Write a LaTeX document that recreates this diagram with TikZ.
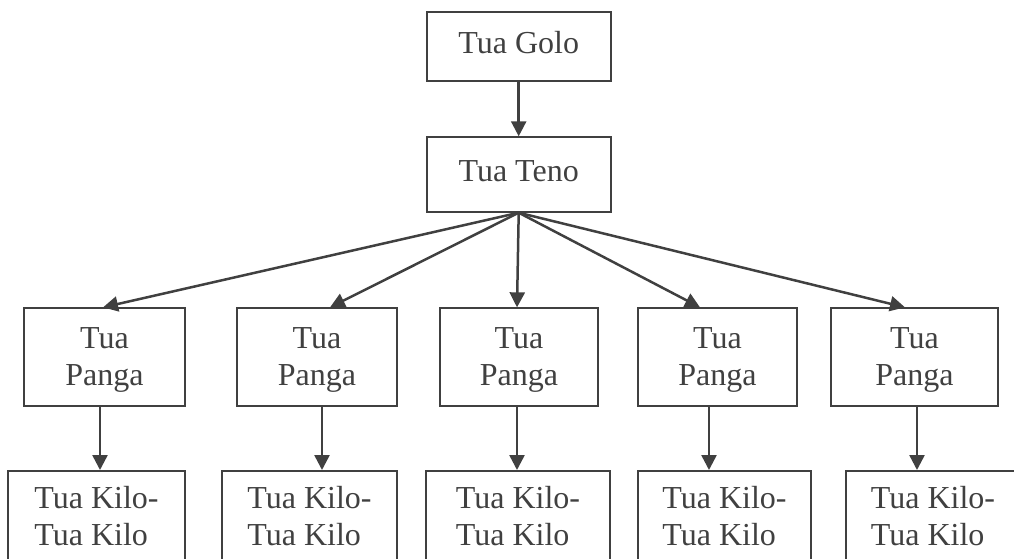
\documentclass[tikz,border=0pt]{standalone}
\usepackage{fontspec}
\setmainfont{Liberation Serif}
\usetikzlibrary{arrows.meta}
\definecolor{ink}{HTML}{404040}
\begin{document}
\begin{tikzpicture}[x=1pt,y=-1pt,
  box/.style={draw=ink, line width=2pt, text=ink, inner sep=0pt,
    font=\fontsize{32}{36.7}\selectfont},
  topbox/.style={box, minimum width=184pt, text height=22pt, text depth=8pt},
  pbox/.style={box, align=center, minimum height=97.7pt},
  kbox/.style={box, align=left, minimum height=100pt},
  arr/.style={draw=ink, line width=2.5pt, -{Triangle[width=15pt,length=15pt]}}]
\useasboundingbox (0,0) rectangle (1014,558);
\clip (0,0) rectangle (1014,558);

\node[topbox, minimum height=68.7pt] (g) at (518.7,46.7) {Tua Golo};
\node[topbox, minimum height=74.4pt] (t) at (518.7,174.5) {Tua Teno};

\node[pbox, minimum width=161pt] (p1) at (104.5,357.2) {\rule{0pt}{26pt}Tua\\Panga};
\node[pbox, minimum width=160pt] (p2) at (317,357.2) {\rule{0pt}{26pt}Tua\\Panga};
\node[pbox, minimum width=158pt] (p3) at (519,357.2) {\rule{0pt}{26pt}Tua\\Panga};
\node[pbox, minimum width=159pt] (p4) at (717.5,357.2) {\rule{0pt}{26pt}Tua\\Panga};
\node[pbox, minimum width=167pt] (p5) at (914.5,357.2) {\rule{0pt}{26pt}Tua\\Panga};

\node[kbox, minimum width=177pt] (k1) at (96.5,521) {Tua Kilo-\\Tua Kilo\rule[-10.6pt]{0pt}{10.6pt}};
\node[kbox, minimum width=175pt] (k2) at (309.5,521) {Tua Kilo-\\Tua Kilo\rule[-10.6pt]{0pt}{10.6pt}};
\node[kbox, minimum width=184pt] (k3) at (518,521) {Tua Kilo-\\Tua Kilo\rule[-10.6pt]{0pt}{10.6pt}};
\node[kbox, minimum width=173pt] (k4) at (724.5,521) {Tua Kilo-\\Tua Kilo\rule[-10.6pt]{0pt}{10.6pt}};
\node[kbox, minimum width=174pt] (k5) at (933,521) {Tua Kilo-\\Tua Kilo\rule[-10.6pt]{0pt}{10.6pt}};

\coordinate (a1) at (103,0);
\coordinate (a2) at (330,0);
\coordinate (a3) at (517,0);
\coordinate (a4) at (700,0);
\coordinate (a5) at (905,0);
\coordinate (d1) at (100,0);
\coordinate (d2) at (322,0);
\coordinate (d3) at (517,0);
\coordinate (d4) at (709,0);
\coordinate (d5) at (917,0);

\draw[arr] (g) -- (t);
\foreach \i in {1,...,5}{
  \draw[arr] (t.south) -- (p\i.north -| a\i);
  \draw[arr] (p\i.south -| d\i) -- (k\i.north -| d\i);
}
\end{tikzpicture}
\end{document}
